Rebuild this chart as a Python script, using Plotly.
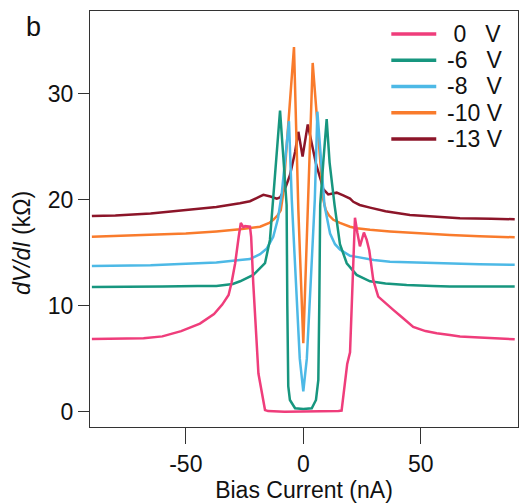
import plotly.graph_objects as go

# Bias current (nA) and dV/dI (kOhm), one pair of lists per gate voltage
bias_0v = [-90, -80, -68, -60, -52, -44, -38, -34.5, -31.8, -30.5, -29, -27.5, -26.6, -25.5, -24.8,
           -22.7, -22.2, -21.3, -19.1, -16.3, -15, -8, 0, 8, 15, 16.3, 18.7, 19.9, 21.3, 22, 23,
           24.1, 25.8, 27, 28.1, 29.8, 31.9, 35, 38.3, 42, 46.8, 52, 56.8, 62.4, 66.7, 75, 83, 90]
dvdi_0v = [6.85, 6.88, 6.92, 7.1, 7.6, 8.3, 9.2, 10.1, 11.0, 12.2, 14.0, 16.5, 17.8, 17.4, 17.5,
           17.45, 16.5, 12.1, 3.6, 0.15, 0.05, 0.0, 0.0, 0.0, 0.05, 0.1, 4.5, 5.6, 15.2, 18.3, 16.9,
           15.6, 16.9, 16.2, 15.2, 12.4, 10.85, 10.2, 9.6, 8.9, 8.0, 7.6, 7.4, 7.24, 7.1, 7.0, 6.9, 6.83]

bias_6v = [-90, -75, -60, -45, -37, -30, -26.9, -21.3, -16.3, -14.2, -13.2, -11.6, -9.9, -8.5, -7.1,
           -6.8, -6.4, -5.7, -3.5, 0, 3.6, 5.4, 6.4, 6.8, 7.2, 8.5, 9.95, 11.2, 13.3, 15.6, 18.5,
           22.7, 28.4, 35, 44, 55, 62.4, 75, 90]
dvdi_6v = [11.75, 11.75, 11.8, 11.85, 11.85, 12.05, 12.3, 12.9, 14.0, 16.2, 19.0, 23.4, 28.4, 24.0, 19.5,
           10.0, 2.4, 1.1, 0.32, 0.25, 0.32, 1.1, 3.0, 10.0, 19.5, 23.5, 27.6, 23.5, 19.5, 15.8, 14.0,
           12.9, 12.3, 12.1, 11.95, 11.85, 11.8, 11.8, 11.8]

bias_8v = [-90, -75, -65, -50, -37, -27, -22.7, -18.4, -15.5, -12.8, -10.8, -9.2, -7.8, -6.1, -4.9,
           -3.0, -1.5, 0, 1.5, 3.0, 4.9, 6.0, 7.4, 9.0, 11.4, 13.5, 15.6, 19.9, 22.7, 30, 36.9,
           50, 62.4, 75, 90]
dvdi_8v = [13.75, 13.8, 13.8, 13.95, 14.06, 14.3, 14.4, 14.85, 15.4, 16.5, 18.2, 20.5, 23.8, 27.4, 20.0,
           11.5, 5.0, 1.9, 5.0, 11.5, 20.0, 28.3, 24.0, 19.5, 16.8, 15.8, 15.3, 14.7, 14.6, 14.3, 14.15,
           14.05, 14.0, 13.9, 13.85]

bias_10v = [-90, -75, -65, -50, -37, -27, -18.4, -14.5, -12.8, -11, -9.6, -8.6, -3.96, -2.1, 0,
            1.9, 4.0, 8.5, 9.6, 11, 12.8, 15.6, 19.9, 22.7, 28.4, 36.9, 50, 62.4, 75, 90]
dvdi_10v = [16.5, 16.6, 16.67, 16.8, 17.0, 17.2, 17.45, 17.8, 18.1, 18.5, 19.0, 20.5, 34.4, 19.0, 6.45,
            19.5, 32.9, 20.0, 19.0, 18.5, 18.1, 17.8, 17.45, 17.3, 17.15, 17.0, 16.8, 16.67, 16.55, 16.45]

bias_13v = [-90, -80, -65, -50, -37, -27, -22.7, -18.4, -17, -14, -11.3, -9.9, -7.5, -5.7, -4.3,
            -3.5, -2.1, -0.3, 1.9, 3.6, 4.3, 5.5, 7.4, 8.5, 10.6, 12.5, 14.2, 17, 19.9, 21.3, 24,
            28.4, 35, 45.4, 55, 66.7, 80, 90]
dvdi_13v = [18.45, 18.5, 18.7, 19.0, 19.3, 19.66, 19.85, 20.3, 20.45, 20.3, 20.1, 20.2, 21.2, 22.3, 23.7,
            24.5, 26.4, 24.06, 27.1, 25.3, 24.4, 23.3, 21.9, 21.0, 20.5, 20.6, 20.66, 20.4, 20.1, 19.8, 19.5,
            19.25, 18.9, 18.55, 18.4, 18.25, 18.2, 18.15]

x_ticks = [-50, 0, 50]
x_tick_text = ["-50", "0", "50"]
y_ticks = [0, 10, 20, 30]

labels = ["\u00a00\u00a0\u00a0\u00a0V", "-6\u00a0\u00a0\u00a0V", "-8\u00a0\u00a0\u00a0V", "-10 V", "-13 V"]
colors = ["#ef3d7b", "#17967f", "#4db9e6", "#f97b2c", "#8c1529"]
series = [(bias_0v, dvdi_0v), (bias_6v, dvdi_6v), (bias_8v, dvdi_8v),
          (bias_10v, dvdi_10v), (bias_13v, dvdi_13v)]

font = "Liberation Sans, Arial, sans-serif"
fig = go.Figure()

# draw in reverse so the 0 V curve sits on top
for (x, y), name, col in reversed(list(zip(series, labels, colors))):
    fig.add_trace(go.Scatter(x=x, y=y, mode="lines", name=name,
                             line=dict(color=col, width=2.5), showlegend=False))

# hand-made legend so the key lines and row spacing match the original
for i, (name, col) in enumerate(zip(labels, colors)):
    yy = 0.945 - i * 0.0632
    fig.add_shape(type="line", xref="paper", yref="paper",
                  x0=0.704, x1=0.809, y0=yy, y1=yy, line=dict(color=col, width=3.5))
    fig.add_annotation(x=0.829, y=yy, xref="paper", yref="paper", text=name, showarrow=False,
                       xanchor="left", yanchor="middle", font=dict(size=23, color="#111"))

fig.add_annotation(x=-0.133, y=0.962, xref="paper", yref="paper", text="b", showarrow=False,
                   xanchor="center", yanchor="middle", font=dict(size=27, color="#111"))
fig.add_annotation(x=-0.159, y=0.442, xref="paper", yref="paper",
                   text="<i>dV/dI</i> (kΩ)", textangle=-90, showarrow=False,
                   xanchor="center", yanchor="middle", font=dict(size=23, color="#111"))

fig.update_xaxes(range=[-90.8, 91.4], tickvals=x_ticks, ticktext=x_tick_text, ticks="outside",
                 ticklen=16, tickwidth=1.3, tickcolor="#333", showline=True, linecolor="#333",
                 linewidth=1.3, mirror=True, showgrid=False, zeroline=False,
                 title=dict(text="Bias Current (nA)", standoff=6, font=dict(size=23, color="#111")),
                 tickfont=dict(size=23, color="#111"))
fig.update_yaxes(range=[-1.45, 37.8], tickvals=y_ticks, ticks="outside", ticklen=11,
                 tickwidth=1.3, tickcolor="#333", showline=True, linecolor="#333", linewidth=1.3,
                 mirror=True, showgrid=False, zeroline=False,
                 tickfont=dict(size=23, color="#111"))
fig.update_layout(width=520, height=503, margin=dict(l=90, r=2, t=11, b=76),
                  paper_bgcolor="white", plot_bgcolor="white",
                  font=dict(family=font, color="#111"))

# the page body has a default margin; drop it so the figure fills the window
fig.write_html("out.html", config={"displayModeBar": False},
               post_script="document.body.style.margin='0px';")
